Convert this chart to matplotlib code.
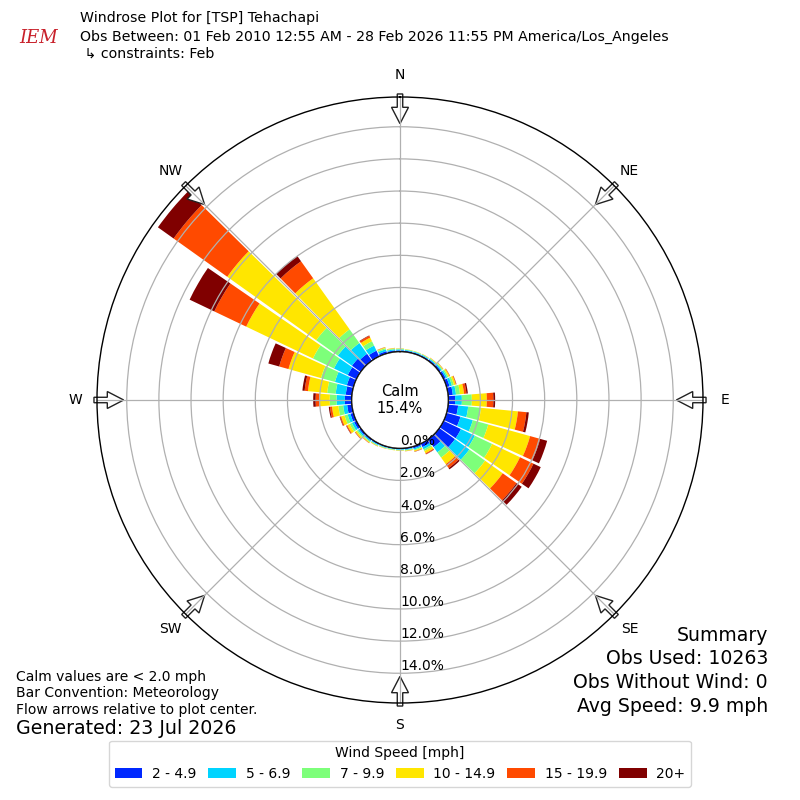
import numpy as np
import matplotlib
matplotlib.use('Agg')
import matplotlib.pyplot as plt
from matplotlib.patches import Circle, FancyArrow, Patch

# direction bins (deg, meteorological) and frequency (%) per speed bin
directions = np.arange(0, 360, 10)
speed_labels = ['2 - 4.9', '5 - 6.9', '7 - 9.9', '10 - 14.9', '15 - 19.9', '20+']
speed_colors = ['#0028ff', '#00d4ff', '#7dff7a', '#ffe600', '#ff4a00', '#800000']

spd_2_5 = [0.09, 0.08, 0.08, 0.08, 0.1, 0.12, 0.15, 0.2, 0.3, 0.43, 0.63, 0.9,
           1.2, 1.2, 0.6, 0.25, 0.12, 0.08, 0.07, 0.06, 0.07, 0.08, 0.1, 0.12,
           0.17, 0.2, 0.3, 0.43, 0.39, 0.43, 0.6, 0.67, 0.53, 0.4, 0.15, 0.1]
spd_5_7 = [0.06, 0.05, 0.05, 0.05, 0.06, 0.08, 0.1, 0.15, 0.2, 0.42, 0.63, 0.8,
           0.96, 1.1, 0.4, 0.15, 0.08, 0.05, 0.04, 0.04, 0.04, 0.05, 0.07, 0.1,
           0.15, 0.18, 0.25, 0.52, 0.63, 0.77, 0.95, 1.08, 0.82, 0.35, 0.12, 0.07]
spd_7_10 = [0.04, 0.03, 0.03, 0.03, 0.04, 0.06, 0.09, 0.13, 0.25, 0.62, 0.8, 1.0,
            1.19, 1.2, 0.4, 0.12, 0.06, 0.04, 0.03, 0.03, 0.03, 0.04, 0.06, 0.09,
            0.15, 0.2, 0.3, 0.42, 0.53, 0.9, 1.45, 1.65, 1.05, 0.3, 0.08, 0.05]
spd_10_15 = [0.02, 0.02, 0.015, 0.02, 0.03, 0.04, 0.08, 0.12, 0.25, 0.93, 2.31, 2.7,
             1.92, 1.35, 0.5, 0.15, 0.06, 0.03, 0.02, 0.02, 0.02, 0.03, 0.05, 0.1,
             0.17, 0.22, 0.4, 0.66, 1.2, 2.1, 4.6, 6.8, 3.9, 0.25, 0.05, 0.03]
spd_15_20 = [0.005, 0, 0, 0.005, 0.01, 0.01, 0.025, 0.04, 0.15, 0.41, 0.53, 0.65,
             0.93, 1.05, 0.3, 0.06, 0.02, 0.01, 0.005, 0, 0.005, 0.01, 0.02, 0.03,
             0.06, 0.07, 0.13, 0.22, 0.21, 0.6, 2.2, 4.1, 1.3, 0.12, 0.015, 0.01]
spd_20p = [0, 0, 0, 0, 0, 0.005, 0.01, 0.01, 0.09, 0.11, 0.15, 0.45,
           0.5, 0.4, 0.1, 0.02, 0.01, 0, 0, 0, 0, 0, 0.005, 0.01,
           0.02, 0.03, 0.07, 0.15, 0.14, 0.7, 1.7, 1.2, 0.4, 0.03, 0.005, 0]

calm_pct = 15.4
rticks = [0, 2, 4, 6, 8, 10, 12, 14]
compass = ['N', 'NE', 'E', 'SE', 'S', 'SW', 'W', 'NW']

r_origin = -3.0
r_max = 15.85

fig = plt.figure(figsize=(8, 8), dpi=100)
ax = fig.add_axes([0.12125, 0.12125, 0.7575, 0.7575], projection='polar')
ax.set_theta_zero_location('N')
ax.set_theta_direction(-1)

theta = np.deg2rad(directions)
width = np.deg2rad(10) * 0.9
bottom = np.zeros(len(directions))
series = [spd_2_5, spd_5_7, spd_7_10, spd_10_15, spd_15_20, spd_20p]
for vals, col in zip(series, speed_colors):
    vals = np.array(vals)
    ax.bar(theta, vals, width=width, bottom=bottom, color=col,
           linewidth=0, zorder=1)
    bottom = bottom + vals

ax.set_rorigin(r_origin)
ax.set_ylim(0, r_max)
ax.set_yticks(rticks)
ax.set_yticklabels([])
ax.set_xticks(np.deg2rad(np.arange(0, 360, 45)))
ax.set_xticklabels(compass, fontsize=10)
ax.tick_params(axis='x', pad=5)
ax.grid(True, color='#b0b0b0', linewidth=0.9)
ax.spines['polar'].set_linewidth(1.0)

# radial labels along south line
for t in rticks:
    ax.text(np.pi, t, '%.1f%%' % t, ha='left', va='bottom', fontsize=10,
            zorder=5)

# calm circle
calm_r = 0.5 * (0 - r_origin) / (r_max - r_origin)
ax.add_patch(Circle((0.5, 0.5), calm_r, transform=ax.transAxes,
                    facecolor='white', edgecolor='black', linewidth=1.0,
                    zorder=3))
ax.text(0.5, 0.5, 'Calm\n%.1f%%' % calm_pct, transform=ax.transAxes,
        ha='center', va='center', fontsize=10.5, zorder=4)

# flow arrows at the rim
L = 0.049
for a in range(0, 360, 45):
    s, c = np.sin(np.deg2rad(a)), np.cos(np.deg2rad(a))
    x0, y0 = 0.5 + 0.505 * s, 0.5 + 0.505 * c
    ax.add_patch(FancyArrow(x0, y0, -L * s, -L * c, width=0.009,
                            head_width=0.028, head_length=0.027,
                            length_includes_head=True, transform=ax.transAxes,
                            facecolor='white', edgecolor='#222222',
                            linewidth=1.0, clip_on=False, zorder=1.5))

# header
fig.text(0.024, 0.952, 'IEM', color='#c8202a', fontsize=13, style='italic',
         family='DejaVu Serif', ha='left', va='center')
fig.text(0.1, 0.9775, 'Windrose Plot for [TSP] Tehachapi', fontsize=10.15,
         va='center')
fig.text(0.1, 0.954, 'Obs Between: 01 Feb 2010 12:55 AM - 28 Feb 2026 11:55 PM '
         'America/Los_Angeles', fontsize=10.15, va='center')
fig.text(0.1, 0.9325, ' \u21b3 constraints: Feb', fontsize=10.15, va='center')

# notes
fig.text(0.02, 0.154, 'Calm values are < 2.0 mph', fontsize=10, va='center')
fig.text(0.02, 0.134, 'Bar Convention: Meteorology', fontsize=10, va='center')
fig.text(0.02, 0.1125, 'Flow arrows relative to plot center.', fontsize=10,
         va='center')
fig.text(0.02, 0.09, 'Generated: 23 Jul 2026', fontsize=13.7, va='center')

summary = ['Summary', 'Obs Used: 10263', 'Obs Without Wind: 0',
           'Avg Speed: 9.9 mph']
for i, line in enumerate(summary):
    fig.text(0.96, 0.206 - i * 0.0295, line, fontsize=13.6, ha='right',
             va='center')

handles = [Patch(facecolor=c) for c in speed_colors]
fig.legend(handles, speed_labels, loc='lower center', ncol=6,
           bbox_to_anchor=(0.5, 0.008), title='Wind Speed [mph]',
           fontsize=10, title_fontsize=10, columnspacing=0.85,
           handletextpad=0.7)

fig.savefig('out.png', dpi=100)
